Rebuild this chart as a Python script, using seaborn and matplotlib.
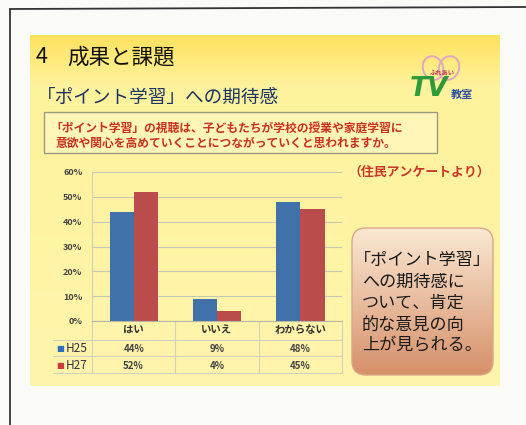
import numpy as np
import pandas as pd
import matplotlib
matplotlib.use('Agg')
import matplotlib.pyplot as plt
import seaborn as sns
from matplotlib.patches import Rectangle, FancyBboxPatch, Ellipse
from matplotlib.colors import to_rgb
from matplotlib.ticker import PercentFormatter

# データ
categories = ['はい', 'いいえ', 'わからない']
years = ['H25', 'H27']
h25 = [0.44, 0.09, 0.48]
h27 = [0.52, 0.04, 0.45]
yticks = [0, 0.1, 0.2, 0.3, 0.4, 0.5, 0.6]

df = pd.DataFrame({
    'answer': categories * 2,
    'year': ['H25'] * 3 + ['H27'] * 3,
    'ratio': h25 + h27,
})

sns.set_style('white')
plt.rcParams['font.family'] = ['Noto Sans CJK JP', 'DejaVu Sans']

fig = plt.figure(figsize=(5.26, 4.25), dpi=100, facecolor='#FAFAF6')

# 背景(スライド)
bg = fig.add_axes([0, 0, 1, 1])
bg.axis('off')

# 外枠
bg.plot([10, 10], [9, 425], color='#333333', lw=1.3)
bg.plot([10, 526], [9, 7], color='#333333', lw=1.3)

# 黄色のグラデーション
t = np.linspace(0, 1, 300)
top, mid, low = np.array(to_rgb('#FFE25E')), np.array(to_rgb('#FFF29C')), np.array(to_rgb('#FFF5AC'))
w = np.clip(t / 0.14, 0, 1)[:, None]
grad = np.where(t[:, None] < 0.14, top * (1 - w) + mid * w,
                mid + (low - mid) * ((t[:, None] - 0.14) / 0.86))
bg.imshow(grad[:, None, :], extent=[30, 500, 386, 35], aspect='auto', zorder=0)

# タイトル
bg.text(36, 57, '4', fontsize=15.5, va='center', ha='left', color='#111111')
bg.text(67, 57, '成果と課題', fontsize=15.5, va='center', ha='left', color='#111111')
bg.text(37, 98, '「ポイント学習」への期待感', fontsize=13.4, va='center', ha='left', color='#1E3566')

# 質問文の枠
bg.add_patch(Rectangle((44, 112), 393, 41, facecolor='#FFF6B8', edgecolor='#9A9A7E', lw=1, zorder=1))
bg.text(50, 128, '「ポイント学習」の視聴は、子どもたちが学校の授業や家庭学習に',
        fontsize=8.5, va='center', ha='left', color='#C8321E', fontweight='bold', zorder=2)
bg.text(56, 143, '意欲や関心を高めていくことにつながっていくと思われますか。',
        fontsize=8.5, va='center', ha='left', color='#C8321E', fontweight='bold', zorder=2)
bg.text(490, 172, '（住民アンケートより）', fontsize=9.3, va='center', ha='right',
        color='#C8382A', fontweight='bold')

# TVロゴ
bg.add_patch(Ellipse((433, 68), 20, 24, angle=-20, fill=False, edgecolor='#E0A8C0', lw=1.4))
bg.add_patch(Ellipse((449, 68), 20, 24, angle=20, fill=False, edgecolor='#E0A8C0', lw=1.4))
bg.text(442, 72, 'ふれあい', fontsize=4.5, color='#C03050', ha='center', va='center', fontweight='bold')
bg.text(429, 89, 'TV', fontsize=19, color='#2F9A3A', ha='center', va='center',
        fontweight='bold', style='italic', family=['DejaVu Sans'])
bg.text(462, 94, '教室', fontsize=8, color='#3050A0', ha='center', va='center', fontweight='bold')

# 右側のまとめボックス
x0, y0, x1, y1 = 352, 228, 493, 375
box = FancyBboxPatch((x0, y0), x1 - x0, y1 - y0, boxstyle='round,pad=0,rounding_size=14',
                     facecolor='none', edgecolor='#D8A888', lw=1, zorder=3)
bg.add_patch(box)
c1, c2 = np.array(to_rgb('#FAE8D2')), np.array(to_rgb('#D6906A'))
g = c1 + (c2 - c1) * np.linspace(0, 1, 200)[:, None]
im = bg.imshow(g[:, None, :], extent=[x0, x1, y1, y0], aspect='auto', zorder=2)
im.set_clip_path(box)
bg.set_xlim(0, 526)
bg.set_ylim(425, 0)

summary = ['「ポイント学習」', 'への期待感に', 'ついて、肯定', '的な意見の向', '上が見られる。']
for i, line in enumerate(summary):
    bg.text(354 if i == 0 else 362, 260 + i * 21.5, line, fontsize=12.3, va='center', ha='left',
            color='#1A1A1A', zorder=4)

# グラフ
ax = fig.add_axes([92 / 526, (425 - 321) / 425, 250 / 526, (321 - 172) / 425], zorder=2)
ax.set_facecolor('none')
sns.barplot(data=df, x='answer', y='ratio', hue='year', palette=['#2E70BA', '#CC3A3A'],
            width=0.58, gap=0, edgecolor='none', legend=False, ax=ax)
ax.set_xlim(-0.5, 2.5)
ax.set_ylim(0, 0.6)
ax.set_yticks(yticks)
ax.yaxis.set_major_formatter(PercentFormatter(1, decimals=0))
ax.tick_params(axis='y', length=0, pad=7, labelsize=6.5, labelcolor='#444444')
for lab in ax.get_yticklabels():
    lab.set_fontweight('bold')
ax.set_xticks([])
ax.set_xlabel('')
ax.set_ylabel('')
ax.grid(axis='y', color='#C8C6B4', lw=0.8)
ax.set_axisbelow(True)
for s in ['top', 'right']:
    ax.spines[s].set_visible(False)
ax.spines['left'].set_color('#D0CEBC')
ax.spines['bottom'].set_color('#B8B6A6')

# データテーブル
tr = ax.get_xaxis_transform()
row_y = [-0.06, -0.185, -0.30]
for yy in [-0.128, -0.235, -0.349]:
    ax.plot([-0.97, 2.5], [yy, yy], transform=tr, color='#D2D0BE', lw=0.8, clip_on=False)
for xx in [-0.5, 0.5, 1.5, 2.5]:
    ax.plot([xx, xx], [0, -0.349], transform=tr, color='#D2D0BE', lw=0.8, clip_on=False)
for i, cat in enumerate(categories):
    ax.text(i, row_y[0], cat, transform=tr, ha='center', va='center', fontsize=7.5,
            color='#333333', fontweight='bold')
    ax.text(i, row_y[1], f'{round(h25[i] * 100)}%', transform=tr, ha='center', va='center',
            fontsize=7, color='#444444', fontweight='bold')
    ax.text(i, row_y[2], f'{round(h27[i] * 100)}%', transform=tr, ha='center', va='center',
            fontsize=7, color='#444444', fontweight='bold')
for yy, name, col in zip(row_y[1:], years, ['#2E70BA', '#CC3A3A']):
    ax.text(-0.88, yy, '■', transform=tr, ha='center', va='center', fontsize=6, color=col,
            family=['DejaVu Sans'])
    ax.text(-0.82, yy, name, transform=tr, ha='left', va='center', fontsize=8.5, color='#333344')

fig.savefig('out.png', dpi=100, facecolor=fig.get_facecolor())
